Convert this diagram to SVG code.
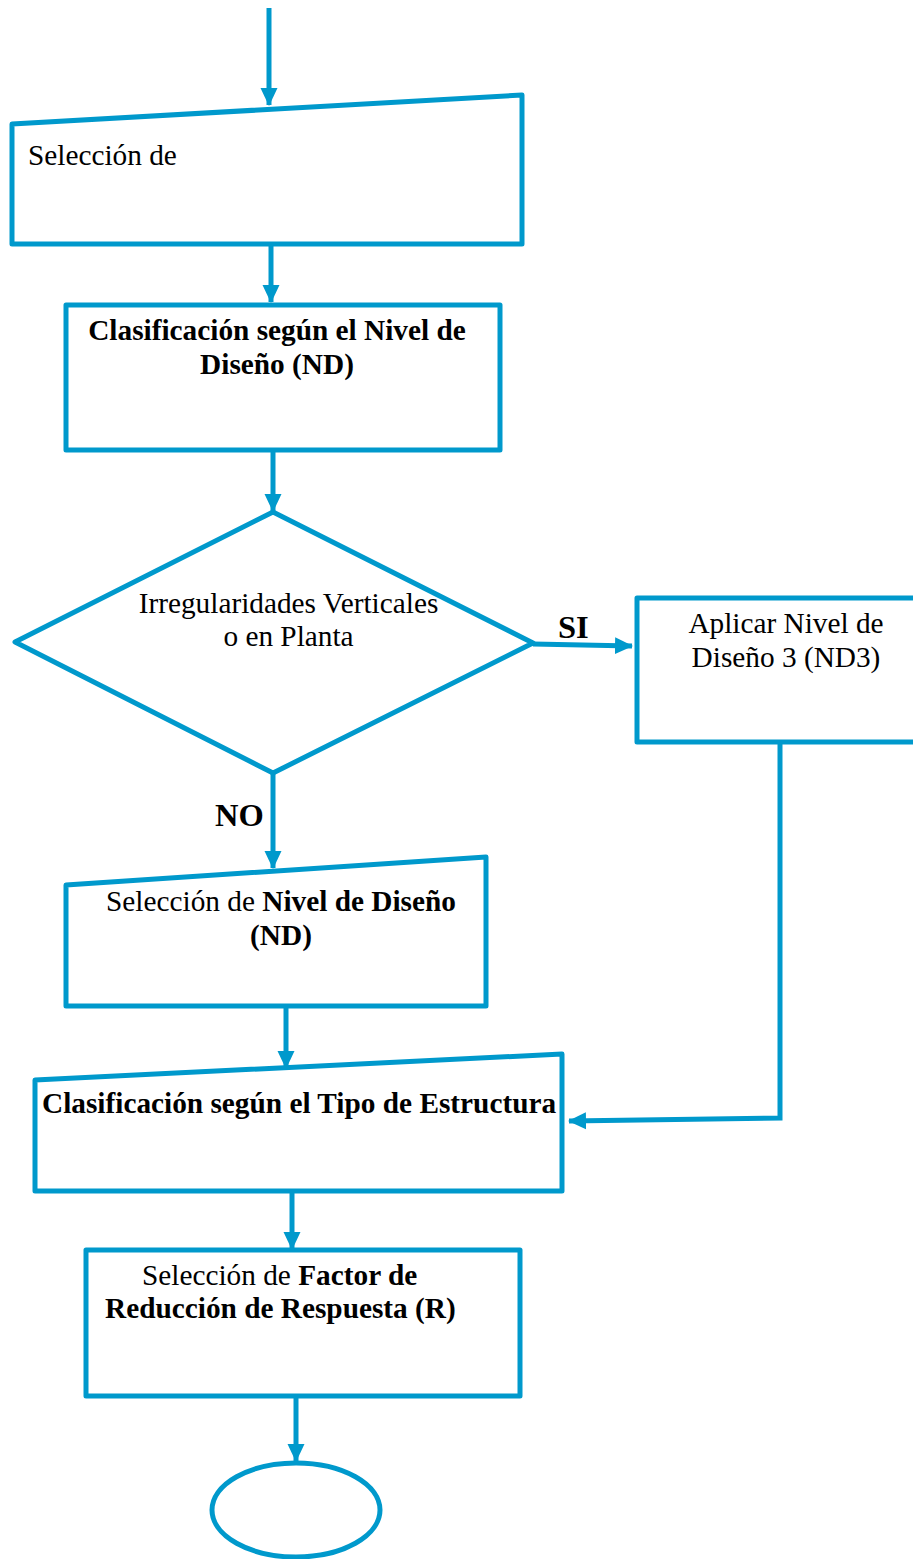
<svg xmlns="http://www.w3.org/2000/svg" width="913" height="1559" viewBox="0 0 913 1559" font-family="'Liberation Serif', 'Times New Roman', Times, serif">
<style>
.s{fill:#fff;stroke:#0099CC;stroke-width:5;stroke-linejoin:round}
.c{fill:none;stroke:#0099CC;stroke-width:5}
.t{font-size:29.3px;fill:#000}
.b{font-weight:bold}
.m{text-anchor:middle}
.l{font-size:32.5px}
</style>
<defs>
<marker id="ah" markerUnits="userSpaceOnUse" markerWidth="20" markerHeight="20" viewBox="0 0 20 20" refX="17" refY="10" orient="auto">
<path d="M0,1.5 L18,10 L0,18.5 Z" fill="#0099CC"/>
</marker>
</defs>
<g id="connectors">
<line class="c" x1="269" y1="8" x2="269" y2="105" marker-end="url(#ah)"/>
<line class="c" x1="271" y1="246" x2="271" y2="302" marker-end="url(#ah)"/>
<line class="c" x1="273" y1="452" x2="273" y2="511" marker-end="url(#ah)"/>
<line class="c" x1="533" y1="644" x2="632" y2="646" marker-end="url(#ah)"/>
<polyline class="c" points="780,742 780,1118 569,1121" marker-end="url(#ah)"/>
<line class="c" x1="273" y1="773" x2="273" y2="868" marker-end="url(#ah)"/>
<line class="c" x1="286" y1="1008" x2="286" y2="1068" marker-end="url(#ah)"/>
<line class="c" x1="292" y1="1191" x2="292" y2="1249" marker-end="url(#ah)"/>
<line class="c" x1="296" y1="1398" x2="296" y2="1461" marker-end="url(#ah)"/>
</g>
<g id="n1">
<polygon class="s" points="12,124 522,95 522,244 12,244"/>
<text class="t" x="28" y="165">Selección de</text>
</g>
<g id="n2">
<rect class="s" x="66" y="305" width="434" height="145"/>
<text class="t b m" x="277" y="340">Clasificación según el Nivel de</text>
<text class="t b m" x="277" y="374">Diseño (ND)</text>
</g>
<g id="n3">
<polygon class="s" points="273,512 533,643 273,773 15,642"/>
<text class="t m" x="288.5" y="613">Irregularidades Verticales</text>
<text class="t m" x="288.5" y="646">o en Planta</text>
</g>
<g id="n4">
<rect class="s" x="637" y="598" width="290" height="144"/>
<text class="t m" x="786" y="633">Aplicar Nivel de</text>
<text class="t m" x="786" y="667">Diseño 3 (ND3)</text>
</g>
<g id="labels">
<text class="t b l" x="558" y="638">SI</text>
<text class="t b l" x="215" y="826">NO</text>
</g>
<g id="n5">
<polygon class="s" points="66,885 486,857 486,1006 66,1006"/>
<text class="t m" x="281" y="911">Selección de <tspan class="b">Nivel de Diseño</tspan></text>
<text class="t b m" x="281" y="945">(ND)</text>
</g>
<g id="n6">
<polygon class="s" points="35,1080 562,1054 562,1191 35,1191"/>
<text class="t b" x="42" y="1113">Clasificación según el Tipo de Estructura</text>
</g>
<g id="n7">
<rect class="s" x="86" y="1250" width="434" height="146"/>
<text class="t" x="142" y="1285">Selección de <tspan class="b">Factor de</tspan></text>
<text class="t b" x="105" y="1318">Reducción de Respuesta (R)</text>
</g>
<g id="n8">
<ellipse class="s" cx="296" cy="1510" rx="84" ry="47"/>
</g>
</svg>
